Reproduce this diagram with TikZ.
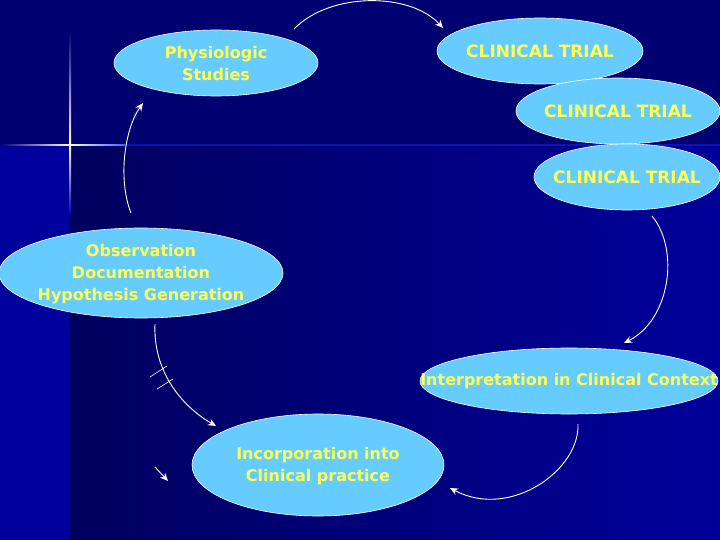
\documentclass[tikz,border=0pt]{standalone}
\usepackage{fontspec}
\setmainfont{DejaVu Sans}
\usetikzlibrary{shapes.geometric,arrows.meta}
\definecolor{slidetop}{HTML}{000070}
\definecolor{slidedark}{HTML}{00005E}
\definecolor{slidelight}{HTML}{00009A}
\definecolor{slidestrip}{HTML}{00009C}
\definecolor{bubble}{HTML}{66CCFF}
\definecolor{bubbletext}{HTML}{FFFF55}
\definecolor{flare}{HTML}{3366FF}
\begin{document}
\begin{tikzpicture}[x=1pt,y=-1pt]
           \tikzstyle{bubble} = [ellipse, inner sep=0pt, fill=bubble, draw=white, line width=0.6pt]
            \tikzstyle{words} = [text=bubbletext, align=center, font=\fontsize{16}{22}\selectfont\bfseries]
            \tikzstyle{arrow} = [white, line width=0.9pt, -{Stealth[length=8pt,width=7pt]}]
            \tikzstyle{tick} = [white, line width=0.6pt]

            \useasboundingbox (0,0) rectangle (720,540);
            \clip (0,0) rectangle (720,540);
            % background
            \fill[slidetop] (0,0) rectangle (720,540);
            \shade[left color=slidedark, right color=slidelight] (70,145) rectangle (720,540);
            \fill[slidestrip] (0,145) rectangle (70,540);
            \fill[slidelight!80!flare] (70,144.5) rectangle (720,146);
            % star
            \shade[left color=slidetop, right color=white] (0,144.3) rectangle (70,146);
            \shade[left color=white, right color=flare] (70,144.3) rectangle (125,146);
            \shade[top color=slidetop, bottom color=white] (69.3,30) rectangle (71,145);
            \shade[top color=white, bottom color=slidestrip] (69.3,145) rectangle (71,215);

            \node (phys) [bubble, minimum width=204, minimum height=66, label={[words, yshift=-1pt]center:Physiologic\\Studies}] at (216,63) {};
            \node (trial1) [bubble, minimum width=206, minimum height=66, label={[words, font=\fontsize{17}{22}\selectfont\bfseries]center:CLINICAL TRIAL}] at (540,51) {};
            \node (trial2) [bubble, minimum width=204, minimum height=66, label={[words, font=\fontsize{17}{22}\selectfont\bfseries]center:CLINICAL TRIAL}] at (618,111) {};
            \node (trial3) [bubble, minimum width=186, minimum height=66, label={[words, font=\fontsize{17}{22}\selectfont\bfseries]center:CLINICAL TRIAL}] at (627,177) {};
            \node (obs) [bubble, minimum width=284, minimum height=90, label={[words, yshift=-1pt]center:Observation\\Documentation\\Hypothesis Generation}] at (141,273) {};
            \node (interp) [bubble, minimum width=298, minimum height=66, label={[words]center:Interpretation in Clinical Context}] at (569,381) {};
            \node (incorp) [bubble, minimum width=252, minimum height=102, label={[words, yshift=-1pt]center:Incorporation into\\Clinical practice}] at (318,465) {};

            \coordinate (a1) at (294,29);
            \coordinate (a2) at (443,28);
            \coordinate (b1) at (131,213);
            \coordinate (b2) at (143,103);
            \coordinate (c1) at (652,216);
            \coordinate (c2) at (624,343);
            \coordinate (d1) at (578,424);
            \coordinate (d2) at (450,488);
            \coordinate (e1) at (155,324);
            \coordinate (e2) at (216,426);
            \coordinate (f1) at (155,467);
            \coordinate (f2) at (168,481);

            \draw[arrow] (a1) .. controls (330,-8) and (410,-8) .. (a2);
            \draw[arrow] (b1) .. controls (118,180) and (124,130) .. (b2);
            \draw[arrow] (c1) .. controls (680,250) and (670,320) .. (c2);
            \draw[arrow] (d1) .. controls (580,470) and (510,520) .. (d2);
            \draw[arrow] (e1) .. controls (153,370) and (180,405) .. (e2);
            \draw[arrow] (f1) -- (f2);
            \draw[tick] (150,377) -- (167,366);
            \draw[tick] (157,389) -- (173,379);
       \end{tikzpicture}
\end{document}
